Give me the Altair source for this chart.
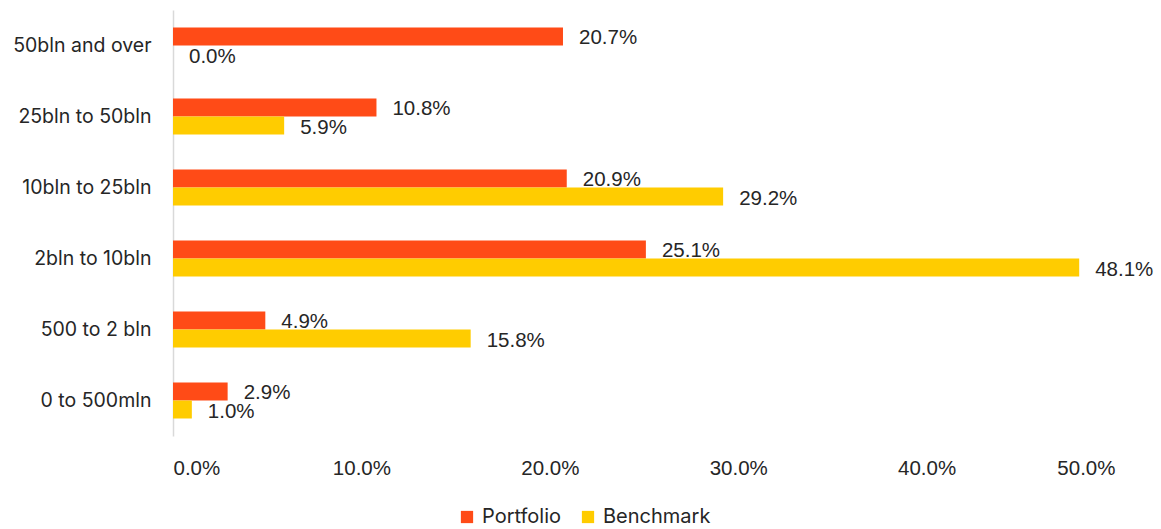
import altair as alt
import pandas as pd

categories = ["50bln and over", "25bln to 50bln", "10bln to 25bln", "2bln to 10bln", "500 to 2 bln", "0 to 500mln"]
series = ["Portfolio", "Benchmark"]
portfolio = [0.207, 0.108, 0.209, 0.251, 0.049, 0.029]
benchmark = [0.000, 0.059, 0.292, 0.481, 0.158, 0.010]
colors = ["#FF4B17", "#FFCC00"]
x_ticks = [0.0, 0.1, 0.2, 0.3, 0.4, 0.5]

rows = []
for c, p, b in zip(categories, portfolio, benchmark):
    rows.append({"category": c, "series": "Portfolio", "value": p})
    rows.append({"category": c, "series": "Benchmark", "value": b})
df = pd.DataFrame(rows)

y_enc = alt.Y("category:N", sort=categories,
              scale=alt.Scale(paddingInner=0, paddingOuter=0),
              axis=alt.Axis(title=None, ticks=False, domain=True, domainColor="#D9D9D9",
                            domainWidth=1.5, labelFont="Inter", labelFontSize=19.5,
                            labelColor="#262626", labelPadding=22, grid=False))
yoff = alt.YOffset("series:N", sort=series,
                   scale=alt.Scale(paddingInner=0, paddingOuter=0.972))

bars = alt.Chart(df).mark_bar(size=18).encode(
    x=alt.X("value:Q", scale=alt.Scale(domain=[0, 0.5], nice=False),
            axis=alt.Axis(title=None, format=".1%", values=x_ticks, domain=False, ticks=False,
                          grid=False, labelFont="Liberation Sans", labelFontSize=20.5,
                          labelColor="#262626", labelPadding=22)),
    y=y_enc,
    yOffset=yoff,
    color=alt.Color("series:N", sort=series,
                    scale=alt.Scale(domain=series, range=colors),
                    legend=alt.Legend(title=None, orient="none", legendX=284, legendY=497,
                                      direction="horizontal", columns=2, symbolType="square",
                                      symbolSize=150, symbolStrokeWidth=0, labelFont="Inter",
                                      labelFontSize=20, labelColor="#262626", columnPadding=16,
                                      labelOffset=5)),
)

labels = alt.Chart(df).mark_text(align="left", baseline="middle", dx=16, dy=2,
                                 font="Liberation Sans", fontSize=20.5, color="#262626").encode(
    x="value:Q",
    y=alt.Y("category:N", sort=categories),
    yOffset=alt.YOffset("series:N", sort=series),
    text=alt.Text("value:Q", format=".1%"),
)

chart = (bars + labels).properties(
    width=942, height=426,
    padding={"left": 173, "top": 10, "right": 46, "bottom": 93},
    autosize=alt.AutoSizeParams(type="none"),
).configure_view(stroke=None)

chart.save("out.html", embed_options={"renderer": "svg", "actions": False})
